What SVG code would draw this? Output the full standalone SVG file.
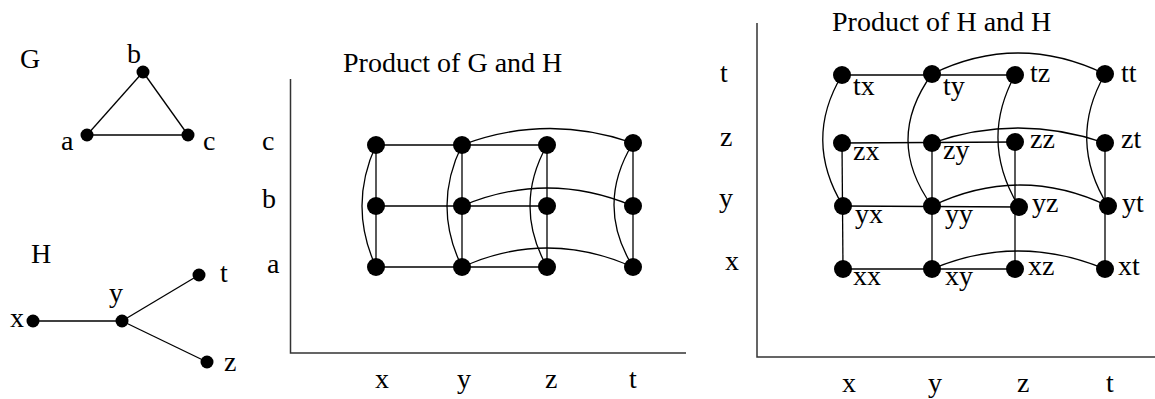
<svg xmlns="http://www.w3.org/2000/svg" width="1155" height="399" viewBox="0 0 1155 399">
<style>
text{font-family:"Liberation Serif","Times New Roman",serif;font-size:28px;fill:#000}
.e{stroke:#000;stroke-width:1.3;fill:none}
.ax{stroke:#333;stroke-width:1.5;fill:none}
.n{fill:#000}
.s{r:6.5}
.b{r:9}
</style>
<rect width="1155" height="399" fill="#fff"/>
<g id="labels">
<text x="20" y="68">G</text>
<text x="31" y="263">H</text>
<text x="343" y="72">Product of G and H</text>
<text x="832" y="31">Product of H and H</text>
<text x="262" y="150">c</text>
<text x="262" y="208">b</text>
<text x="267" y="273">a</text>
<text x="375" y="388">x</text>
<text x="457" y="388">y</text>
<text x="545" y="388">z</text>
<text x="629" y="388">t</text>
<text x="720" y="82">t</text>
<text x="720" y="146">z</text>
<text x="719" y="207">y</text>
<text x="725" y="270">x</text>
<text x="842" y="392">x</text>
<text x="928" y="392">y</text>
<text x="1017" y="392">z</text>
<text x="1106" y="392">t</text>
</g>
<g id="axes">
<polyline class="ax" points="290.5,79 290.5,353 686,353"/>
<polyline class="ax" points="757,23 757,357 1155,357"/>
</g>
<g id="connectors">
<!-- G -->
<line class="e" x1="87" y1="135" x2="143" y2="72"/>
<line class="e" x1="143" y1="72" x2="188" y2="135"/>
<line class="e" x1="87" y1="135" x2="188" y2="135"/>
<!-- H -->
<line class="e" x1="33" y1="321" x2="122" y2="321"/>
<line class="e" x1="122" y1="321" x2="199" y2="275"/>
<line class="e" x1="122" y1="321" x2="207" y2="362"/>
<!-- G x H straight -->
<line class="e" x1="376" y1="145" x2="547" y2="145"/>
<line class="e" x1="376" y1="206" x2="547" y2="206"/>
<line class="e" x1="376" y1="267" x2="547" y2="267"/>
<line class="e" x1="376" y1="145" x2="376" y2="267"/>
<line class="e" x1="462" y1="145" x2="462" y2="267"/>
<line class="e" x1="547" y1="145" x2="547" y2="267"/>
<line class="e" x1="633" y1="143" x2="633" y2="267"/>
<!-- G x H arcs -->
<path class="e" d="M462,145 Q547,113 633,143"/>
<path class="e" d="M462,206 Q547,170 633,206"/>
<path class="e" d="M462,267 Q547,229 633,267"/>
<path class="e" d="M376,145 Q348,206 376,267"/>
<path class="e" d="M462,145 Q432,206 462,267"/>
<path class="e" d="M547,145 Q513,206 547,267"/>
<path class="e" d="M633,143 Q595,205 633,267"/>
<!-- H x H straight -->
<line class="e" x1="842" y1="75" x2="1015" y2="75"/>
<line class="e" x1="842" y1="143" x2="1015" y2="142"/>
<line class="e" x1="843" y1="206" x2="1019" y2="207"/>
<line class="e" x1="843" y1="269" x2="1015" y2="269"/>
<line class="e" x1="842" y1="143" x2="843" y2="269"/>
<line class="e" x1="932" y1="143" x2="932" y2="269"/>
<line class="e" x1="1015" y1="142" x2="1015" y2="269"/>
<line class="e" x1="1105" y1="143" x2="1105" y2="269"/>
<!-- H x H arcs -->
<path class="e" d="M932,74 Q1018,32 1105,74"/>
<path class="e" d="M932,143 Q1018,113 1105,143"/>
<path class="e" d="M932,206 Q1020,164 1108,206"/>
<path class="e" d="M932,269 Q1018,233 1105,269"/>
<path class="e" d="M842,75 Q803,140 843,206"/>
<path class="e" d="M932,74 Q884,140 932,206"/>
<path class="e" d="M1015,75 Q979,141 1019,207"/>
<path class="e" d="M1105,74 Q1067,140 1108,206"/>
</g>
<g id="G-a"><circle class="n" cx="87" cy="135" r="6.5"/><text x="61" y="150">a</text></g>
<g id="G-b"><circle class="n" cx="143" cy="72" r="6.5"/><text x="127" y="63">b</text></g>
<g id="G-c"><circle class="n" cx="188" cy="135" r="6.5"/><text x="203" y="150">c</text></g>
<g id="H-x"><circle class="n" cx="33" cy="321" r="6.5"/><text x="10" y="327">x</text></g>
<g id="H-y"><circle class="n" cx="122" cy="321" r="6.5"/><text x="109" y="302">y</text></g>
<g id="H-t"><circle class="n" cx="199" cy="275" r="6.5"/><text x="220" y="282">t</text></g>
<g id="H-z"><circle class="n" cx="207" cy="362" r="6.5"/><text x="224" y="371">z</text></g>
<g id="GH-cx"><circle class="n" cx="376" cy="145" r="9"/></g>
<g id="GH-cy"><circle class="n" cx="462" cy="145" r="9"/></g>
<g id="GH-cz"><circle class="n" cx="547" cy="145" r="9"/></g>
<g id="GH-ct"><circle class="n" cx="633" cy="143" r="9"/></g>
<g id="GH-bx"><circle class="n" cx="376" cy="206" r="9"/></g>
<g id="GH-by"><circle class="n" cx="462" cy="206" r="9"/></g>
<g id="GH-bz"><circle class="n" cx="547" cy="206" r="9"/></g>
<g id="GH-bt"><circle class="n" cx="633" cy="206" r="9"/></g>
<g id="GH-ax"><circle class="n" cx="376" cy="267" r="9"/></g>
<g id="GH-ay"><circle class="n" cx="462" cy="267" r="9"/></g>
<g id="GH-az"><circle class="n" cx="547" cy="267" r="9"/></g>
<g id="GH-at"><circle class="n" cx="633" cy="267" r="9"/></g>
<g id="HH-tx"><circle class="n" cx="842" cy="75" r="9"/><text x="853" y="95">tx</text></g>
<g id="HH-ty"><circle class="n" cx="932" cy="74" r="9"/><text x="943" y="95">ty</text></g>
<g id="HH-tz"><circle class="n" cx="1015" cy="75" r="9"/><text x="1030" y="82">tz</text></g>
<g id="HH-tt"><circle class="n" cx="1105" cy="74" r="9"/><text x="1121" y="82">tt</text></g>
<g id="HH-zx"><circle class="n" cx="842" cy="143" r="9"/><text x="853" y="160">zx</text></g>
<g id="HH-zy"><circle class="n" cx="932" cy="143" r="9"/><text x="943" y="159">zy</text></g>
<g id="HH-zz"><circle class="n" cx="1015" cy="142" r="9"/><text x="1030" y="148">zz</text></g>
<g id="HH-zt"><circle class="n" cx="1105" cy="143" r="9"/><text x="1121" y="148">zt</text></g>
<g id="HH-yx"><circle class="n" cx="843" cy="206" r="9"/><text x="855" y="223">yx</text></g>
<g id="HH-yy"><circle class="n" cx="932" cy="206" r="9"/><text x="945" y="223">yy</text></g>
<g id="HH-yz"><circle class="n" cx="1019" cy="207" r="9"/><text x="1032" y="212">yz</text></g>
<g id="HH-yt"><circle class="n" cx="1108" cy="206" r="9"/><text x="1122" y="212">yt</text></g>
<g id="HH-xx"><circle class="n" cx="843" cy="269" r="9"/><text x="853" y="285">xx</text></g>
<g id="HH-xy"><circle class="n" cx="932" cy="269" r="9"/><text x="945" y="285">xy</text></g>
<g id="HH-xz"><circle class="n" cx="1015" cy="269" r="9"/><text x="1028" y="275">xz</text></g>
<g id="HH-xt"><circle class="n" cx="1105" cy="269" r="9"/><text x="1118" y="275">xt</text></g>
</svg>
